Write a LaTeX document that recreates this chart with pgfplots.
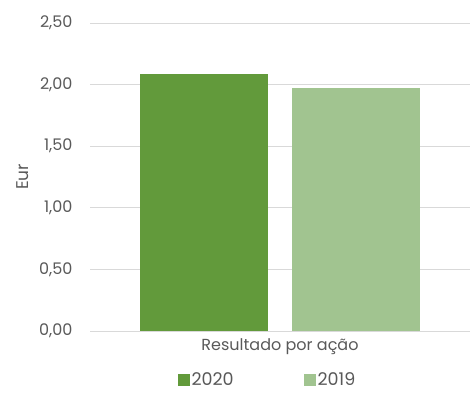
\documentclass[border=0pt]{standalone}
\usepackage{fontspec}
\setmainfont{Poppins}
\usepackage{pgfplots}
\pgfplotsset{compat=1.18}
\definecolor{dg}{HTML}{629A3B}
\definecolor{lg}{HTML}{A1C490}
\definecolor{gridc}{HTML}{D9D9D9}
\definecolor{txt}{HTML}{595959}
\begin{document}
\begin{tikzpicture}
\path[use as bounding box] (0,0) rectangle (470pt,392pt);
\begin{axis}[
  at={(90pt,61pt)}, anchor=south west,
  scale only axis, width=380pt, height=308pt,
  xmin=-0.5, xmax=0.5, ymin=0, ymax=2.5,
  ytick={0,0.5,1,1.5,2,2.5},
  xtick={0}, xticklabels={Resultado por ação},
  axis line style={draw=none},
  axis x line*=bottom,
  x axis line style={draw=gridc, line width=0.8pt},
  ymajorgrids, grid style={gridc, line width=0.8pt},
  major tick length=0pt,
  tick style={draw=none},
  axis y line=none,
  hide y axis=false,
  ybar=24pt, bar width=128pt,
  /pgf/number format/assume math mode=true,
  yticklabel={\pgfmathprintnumber[fixed,fixed zerofill,precision=2,use comma]{\tick}},
  yticklabel style={font=\fontsize{16}{18}\selectfont, text=txt, xshift=-14pt},
  xticklabel style={font=\fontsize{16}{18}\selectfont, text=txt, yshift=-4pt},
  ylabel={Eur}, ylabel style={font=\fontsize{17}{19}\selectfont, text=txt, yshift=4pt},
  legend style={at={(0.467,-0.16)}, anchor=center, draw=none, fill=none,
    legend columns=2, font=\fontsize{17.5}{19}\selectfont, text=txt,
    /tikz/every even column/.append style={column sep=68pt}},
  legend image code/.code={\fill[#1] (0pt,-6pt) rectangle (12pt,6pt);},
]
\addplot[fill=dg, draw=none] coordinates {(0,2.09)};
\addplot[fill=lg, draw=none] coordinates {(0,1.97)};
\legend{2020,2019}
\end{axis}
\end{tikzpicture}
\end{document}
